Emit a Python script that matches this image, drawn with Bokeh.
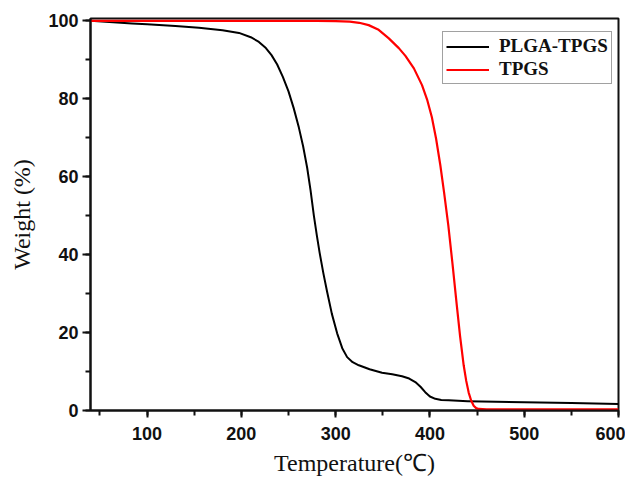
from bokeh.plotting import figure
from bokeh.models import SingleIntervalTicker, Range1d, Legend, LegendItem, ColumnDataSource
from bokeh.embed import file_html
from bokeh.resources import INLINE

# PLGA-TPGS TGA curve
plga_temp = [40, 60, 84, 100, 130, 155, 180, 197.5, 210, 218.6, 226, 232, 238, 244, 250,
             255.5, 261, 265.5, 269.8, 273.4, 276.9, 280, 283, 287, 291, 296, 301.6, 307,
             312.2, 318, 324.6, 336, 349.2, 360, 370.4, 378, 384.5, 390, 395, 400, 405.7,
             412, 419.9, 440, 500, 550, 600]
plga_weight = [100, 99.7, 99.3, 99.1, 98.7, 98.2, 97.6, 96.9, 95.8, 94.6, 93.0, 91.2, 88.8,
               85.6, 81.9, 77.6, 72.6, 67.8, 62.3, 56.5, 50.0, 45.0, 40.5, 35.2, 30.4, 24.8,
               19.8, 16.0, 13.7, 12.4, 11.6, 10.6, 9.7, 9.3, 8.8, 8.2, 7.3, 6.1, 4.7, 3.6,
               3.0, 2.7, 2.6, 2.4, 2.1, 1.9, 1.7]

# TPGS TGA curve
tpgs_temp = [40, 100, 200, 280, 300, 315, 325, 335, 345, 356.4, 367, 374, 383, 391.6, 397,
             402, 406.5, 411, 415, 419.5, 424, 428.5, 432, 435.8, 438.5, 441.1, 443.8, 446.4,
             449, 451.7, 460, 500, 600]
tpgs_weight = [100, 100, 100, 100, 99.95, 99.8, 99.5, 98.9, 97.8, 95.5, 93.0, 91.0, 87.8, 83.5,
               79.8, 75.3, 69.8, 63.0, 56.0, 47.5, 37.5, 27.0, 19.0, 11.6, 7.6, 4.6, 2.5, 1.2,
               0.6, 0.4, 0.3, 0.3, 0.3]

series_names = ["PLGA-TPGS", "TPGS"]
series_colors = ["#000000", "#ff0000"]

x_start, x_end = 40, 600
y_start, y_end = 0, 100.6

p = figure(frame_width=528, frame_height=392, output_backend="svg", toolbar_location=None,
           x_range=Range1d(x_start, x_end), y_range=Range1d(y_start, y_end),
           min_border_left=90, min_border_right=7, min_border_top=18, min_border_bottom=50)

p.xgrid.visible = False
p.ygrid.visible = False
p.outline_line_color = "#111111"
p.outline_line_width = 2
p.background_fill_color = "white"
p.border_fill_color = "white"

p.xaxis.ticker = SingleIntervalTicker(interval=100, num_minor_ticks=2)
p.yaxis.ticker = SingleIntervalTicker(interval=20, num_minor_ticks=2)

for ax in (p.xaxis[0], p.yaxis[0]):
    ax.axis_line_width = 2
    ax.axis_line_color = "#111111"
    ax.major_tick_line_width = 2
    ax.minor_tick_line_width = 2
    ax.major_tick_line_color = "#111111"
    ax.minor_tick_line_color = "#111111"
    ax.major_tick_in = 0
    ax.minor_tick_in = 0
    ax.major_label_text_font = "Liberation Sans"
    ax.major_label_text_font_style = "bold"
    ax.major_label_text_font_size = "18px"
    ax.major_label_text_color = "#111111"
    ax.axis_label_text_font = "Liberation Serif"
    ax.axis_label_text_font_style = "normal"
    ax.axis_label_text_font_size = "24px"
    ax.axis_label_text_color = "#111111"

p.xaxis.major_tick_out = 7
p.xaxis.minor_tick_out = 5
p.yaxis.major_tick_out = 8
p.yaxis.minor_tick_out = 5
p.xaxis.major_label_standoff = 9
p.yaxis.major_label_standoff = 4
p.xaxis.axis_label = "Temperature(℃)"
p.yaxis.axis_label = "Weight (%)"
p.xaxis.axis_label_standoff = 7
p.yaxis.axis_label_standoff = 10

src1 = ColumnDataSource(dict(x=plga_temp, y=plga_weight))
src2 = ColumnDataSource(dict(x=tpgs_temp, y=tpgs_weight))
r1 = p.line("x", "y", source=src1, line_color=series_colors[0], line_width=2, line_join="round")
r2 = p.line("x", "y", source=src2, line_color=series_colors[1], line_width=2.2, line_join="round")
m1 = p.scatter("x", "y", source=ColumnDataSource(dict(x=[], y=[])), size=4,
               fill_color=series_colors[0], line_color=series_colors[0])
m2 = p.scatter("x", "y", source=ColumnDataSource(dict(x=[], y=[])), size=4,
               fill_color=series_colors[1], line_color=series_colors[1])

legend = Legend(items=[LegendItem(label=series_names[0], renderers=[r1, m1]),
                       LegendItem(label=series_names[1], renderers=[r2, m2])],
                location=(352, 326))
legend.label_text_font = "Liberation Serif"
legend.label_text_font_style = "bold"
legend.label_text_font_size = "19px"
legend.label_text_color = "#111111"
legend.glyph_width = 43
legend.glyph_height = 19
legend.label_height = 19
legend.label_standoff = 10
legend.spacing = 1
legend.padding = 3
legend.margin = 0
legend.border_line_color = "#444444"
legend.border_line_width = 1.5
legend.background_fill_alpha = 1
p.add_layout(legend, "center")

open("out.html", "w").write(file_html(p, INLINE))
